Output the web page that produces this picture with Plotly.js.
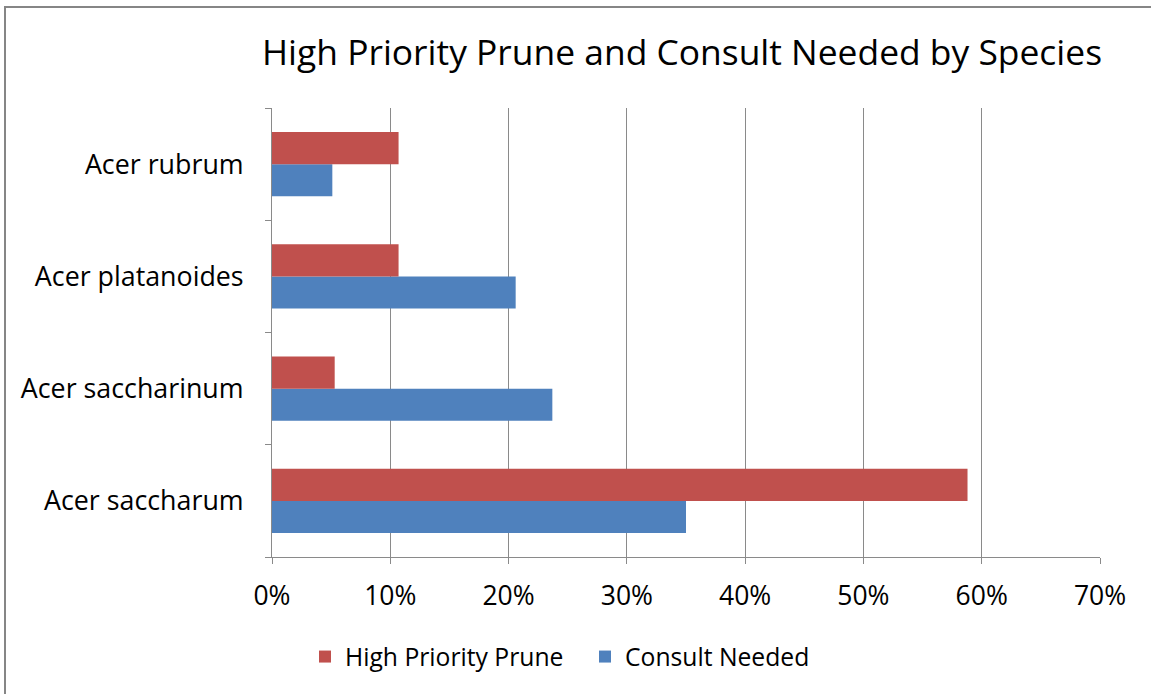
<!DOCTYPE html>
<html>
<head>
<meta charset="utf-8">
<script src="https://cdn.plot.ly/plotly-3.0.1.min.js"></script>
<style>
  html, body { margin: 0; padding: 0; background: #ffffff; }
  #chart { width: 1151px; height: 694px; }
</style>
</head>
<body>
<div id="chart"></div>
<script>
// Species shown on the category axis, listed bottom to top
const species = ['Acer saccharum', 'Acer saccharinum', 'Acer platanoides', 'Acer rubrum'];

// Share of trees per species (fractions of 1)
const highPriorityPrune = [0.588, 0.053, 0.107, 0.107];
const consultNeeded = [0.350, 0.237, 0.206, 0.051];

// Value axis ticks
const tickValues = [0, 0.1, 0.2, 0.3, 0.4, 0.5, 0.6, 0.7];

const FONT = 'Open Sans, Noto Sans, sans-serif';
const GRID = '#8a8a8a';

const traces = [
  {
    type: 'bar',
    orientation: 'h',
    name: 'Consult Needed',
    y: species,
    x: consultNeeded,
    marker: { color: '#4F81BD' },
    hoverinfo: 'x+y+name'
  },
  {
    type: 'bar',
    orientation: 'h',
    name: 'High Priority Prune',
    y: species,
    x: highPriorityPrune,
    marker: { color: '#C0504D' },
    hoverinfo: 'x+y+name'
  }
];

// Plot area in pixels: left 272, right 1100, top 108, bottom 557
const M = { l: 272, r: 51, t: 108, b: 137 };
const PW = 1151 - M.l - M.r;
const PH = 694 - M.t - M.b;
const px = v => (v - M.l) / PW;
const py = v => (694 - M.b - v) / PH;

const layout = {
  width: 1151,
  height: 694,
  margin: M,
  paper_bgcolor: '#ffffff',
  plot_bgcolor: '#ffffff',
  font: { family: FONT, color: '#000000', size: 26 },
  title: {
    text: 'High Priority Prune and Consult Needed by Species',
    font: { family: FONT, size: 35.4, color: '#000000' },
    xref: 'container',
    x: 682 / 1151,
    xanchor: 'center',
    yref: 'container',
    y: 1 - 53 / 694,
    yanchor: 'middle'
  },
  barmode: 'group',
  bargap: 0.4286,
  bargroupgap: 0,
  showlegend: true,
  legend: {
    orientation: 'h',
    traceorder: 'reversed',
    entrywidth: 235,
    entrywidthmode: 'pixels',
    x: px(305),
    xanchor: 'left',
    y: py(657),
    yanchor: 'middle',
    font: { family: FONT, size: 24.7, color: '#000000' },
    bgcolor: 'rgba(0,0,0,0)'
  },
  xaxis: {
    range: [0, 0.7],
    tickvals: tickValues,
    tickformat: '.0%',
    showgrid: true,
    gridcolor: GRID,
    gridwidth: 1,
    zeroline: false,
    showline: true,
    linecolor: GRID,
    linewidth: 1,
    ticks: 'outside',
    ticklen: 6,
    tickcolor: GRID,
    ticklabelstandoff: 9,
    tickfont: { family: FONT, size: 26.5, color: '#000000' },
    fixedrange: true
  },
  yaxis: {
    type: 'category',
    categoryorder: 'array',
    categoryarray: species,
    showgrid: false,
    zeroline: false,
    showline: true,
    linecolor: GRID,
    linewidth: 1,
    ticks: 'outside',
    tickson: 'boundaries',
    ticklen: 6,
    tickcolor: GRID,
    ticklabelstandoff: 22,
    tickfont: { family: FONT, size: 26.8, color: '#000000' },
    fixedrange: true
  },
  shapes: [
    {
      type: 'rect',
      xref: 'paper', yref: 'paper',
      x0: px(5), x1: px(1170),
      y0: py(710), y1: py(7),
      line: { color: '#868686', width: 2 },
      fillcolor: 'rgba(0,0,0,0)',
      layer: 'below'
    }
  ]
};

Plotly.newPlot('chart', traces, layout, { displayModeBar: false, staticPlot: true });
</script>
</body>
</html>
